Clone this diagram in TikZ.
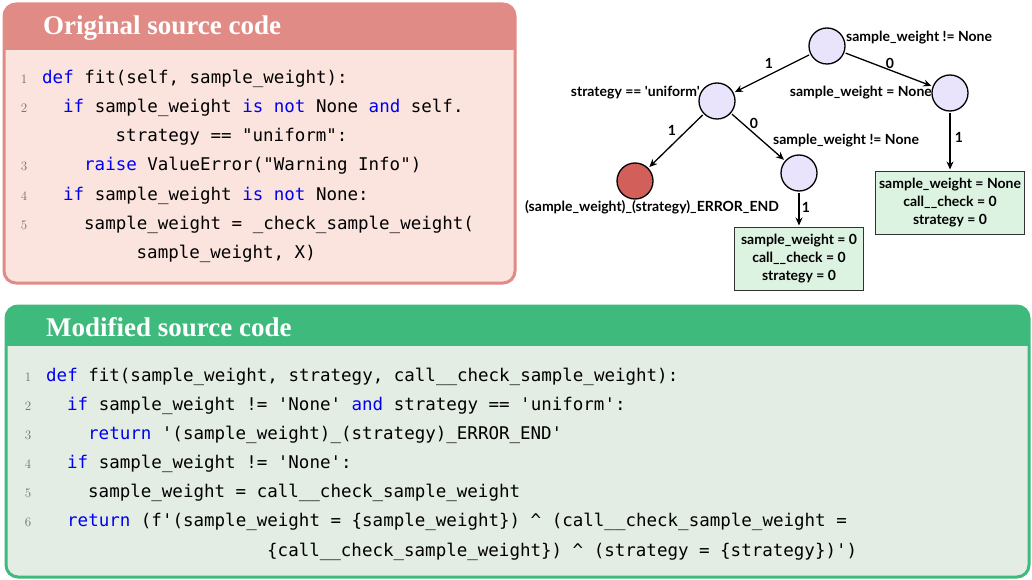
\documentclass[tikz,border=0pt]{standalone}
\usepackage{fontspec}
\usepackage{xcolor}
\usetikzlibrary{arrows.meta,positioning}

\newfontfamily\titlefont{Liberation Serif}
\newfontfamily\codefont{DejaVu Sans Mono}
\newfontfamily\treefont{Lato}

\definecolor{orighead}{HTML}{E08B85}
\definecolor{origbody}{HTML}{FCE4DE}
\definecolor{modhead}{HTML}{3DBA7C}
\definecolor{modbody}{HTML}{E4EDE3}
\definecolor{kwblue}{HTML}{0000F0}
\definecolor{nodefill}{HTML}{E9E3FC}
\definecolor{errfill}{HTML}{D35F5B}
\definecolor{leaffill}{HTML}{DDF3E2}
\definecolor{lnumgray}{HTML}{707070}

\newcommand{\kw}[1]{\textcolor{kwblue}{#1}}

\begin{document}
\begin{tikzpicture}[
    x=1pt, y=-1pt,
    title/.style={anchor=base west, text=white, font=\titlefont\bfseries\fontsize{27}{30}\selectfont, inner sep=0pt},
    code/.style={anchor=base west, font=\codefont\fontsize{17.5}{21}\selectfont, inner sep=0pt},
    lnum/.style={anchor=base, text=lnumgray, font=\fontsize{13}{15}\selectfont, inner sep=0pt},
    cond/.style={circle, draw=black, line width=1.3pt, fill=nodefill, minimum size=36pt, inner sep=0pt, outer sep=2pt},
    errnode/.style={cond, fill=errfill},
    leaf/.style={rectangle, draw=black!80, line width=1.4pt, fill=leaffill, align=center, inner sep=0pt, outer sep=2pt, font=\treefont\bfseries\fontsize{14}{18}\selectfont},
    lab/.style={inner sep=0pt, font=\treefont\bfseries\fontsize{14}{16}\selectfont},
    elab/.style={inner sep=0pt, font=\treefont\bfseries\fontsize{14}{16}\selectfont},
    edge/.style={line width=1.3pt, -{Stealth[length=8pt,width=7pt]}}
]
\useasboundingbox (0,0) rectangle (1032,580);

% Original source code panel
\begin{scope}
  \clip[rounded corners=12pt] (4,4) rectangle (515,283);
  \fill[origbody] (4,4) rectangle (515,283);
  \fill[orighead] (4,4) rectangle (515,50);
\end{scope}
\draw[orighead, line width=3pt, rounded corners=12pt] (4,4) rectangle (515,283);
\node[title] (origtitle) at (43,35) {Original source code};

\foreach \n/\y in {1/84,2/113,3/171,4/200,5/229}
  \node[lnum] (on\n) at (24,\y) {\n};

\node[code] (o1) at (42,84) {\kw{def} fit(self, sample\_weight):};
\node[code] (o2) at (63,113) {\kw{if} sample\_weight \kw{is} \kw{not} None \kw{and} self.};
\node[code] (o2b) at (115.5,142) {strategy == "uniform":};
\node[code] (o3) at (84,171) {\kw{raise} ValueError("Warning Info")};
\node[code] (o4) at (63,200) {\kw{if} sample\_weight \kw{is} \kw{not} None:};
\node[code] (o5) at (84,229) {sample\_weight = \_check\_sample\_weight(};
\node[code] (o5b) at (136.5,258) {sample\_weight, X)};

% Modified source code panel
\begin{scope}
  \clip[rounded corners=12pt] (6,306) rectangle (1029,577);
  \fill[modbody] (6,306) rectangle (1029,577);
  \fill[modhead] (6,306) rectangle (1029,346);
\end{scope}
\draw[modhead, line width=3pt, rounded corners=12pt] (6,306) rectangle (1029,577);
\node[title] (modtitle) at (46,336) {Modified source code};

\foreach \n/\y in {1/381,2/410,3/439,4/468,5/497,6/526}
  \node[lnum] (mn\n) at (28,\y) {\n};

\node[code] (m1) at (46,381) {\kw{def} fit(sample\_weight, strategy, call\_\_check\_sample\_weight):};
\node[code] (m2) at (67,410) {\kw{if} sample\_weight != 'None' \kw{and} strategy == 'uniform':};
\node[code] (m3) at (88,439) {\kw{return} '(sample\_weight)\_(strategy)\_ERROR\_END'};
\node[code] (m4) at (67,468) {\kw{if} sample\_weight != 'None':};
\node[code] (m5) at (88,497) {sample\_weight = call\_\_check\_sample\_weight};
\node[code] (m6) at (67,526) {\kw{return} (f'(sample\_weight = \{sample\_weight\}) \textasciicircum{} (call\_\_check\_sample\_weight =};
\node[code] (m6b) at (267,556) {\{call\_\_check\_sample\_weight\}) \textasciicircum{} (strategy = \{strategy\})')};

% Decision tree
\node[cond] (root) at (827,46) {};
\node[cond] (uni) at (717,101) {};
\node[cond] (none) at (950,93) {};
\node[errnode] (err) at (635,181) {};
\node[cond] (sw) at (799,173) {};
\node[leaf, minimum width=129pt, minimum height=63pt] (leafa) at (799,259)
  {sample\_weight = 0\\call\_\_check = 0\\strategy = 0};
\node[leaf, minimum width=149pt, minimum height=63pt] (leafb) at (950,203)
  {sample\_weight = None\\call\_\_check = 0\\strategy = 0};

\node[lab, anchor=west] (rootlab) at (846,38) {sample\_weight != None};
\node[lab, anchor=east] (unilab) at (700,93) {strategy == 'uniform'};
\node[lab, anchor=east] (nonelab) at (932,93) {sample\_weight = None};
\node[lab] (errlab) at (652,207) {(sample\_weight)\_(strategy)\_ERROR\_END};
\node[lab] (swlab) at (846,141) {sample\_weight != None};

\draw[edge] (root) -- (uni);
\draw[edge] (root) -- (none);
\draw[edge] (uni) -- (err);
\draw[edge] (uni) -- (sw);
\draw[edge] (sw) -- (leafa);
\draw[edge] (none) -- (leafb);

\node[elab] (e1) at (769,63) {1};
\node[elab] (e2) at (890,63) {0};
\node[elab] (e3) at (672,130) {1};
\node[elab] (e4) at (754,123) {0};
\node[elab] (e5) at (806,207) {1};
\node[elab] (e6) at (959,137) {1};

\end{tikzpicture}
\end{document}
